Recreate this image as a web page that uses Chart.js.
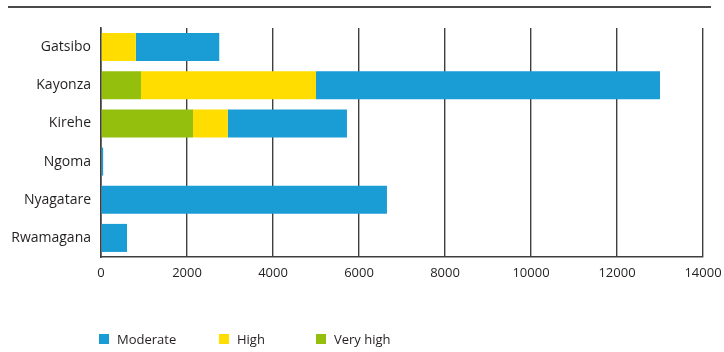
<!DOCTYPE html>
<html>
<head>
<meta charset="utf-8">
<script src="https://cdn.jsdelivr.net/npm/chart.js@4.4.1/dist/chart.umd.min.js"></script>
<style>
  html, body { margin: 0; padding: 0; background: #fff; }
  #wrap { position: relative; width: 724px; height: 352px; overflow: hidden; }
  #topline { position: absolute; left: 8px; top: 6px; width: 703px; height: 2px; background: #4a4a4a; }
  #legend { position: absolute; top: 330px; left: 0; height: 18px; font-family: "Open Sans", sans-serif; font-size: 13px; color: #231f20; }
  .li { position: absolute; top: 0; white-space: nowrap; display: flex; align-items: center; height: 18px; }
  .sw { width: 10px; height: 10px; margin-right: 8px; display: inline-block; }
  canvas { position: absolute; left: 0; top: 0; }
</style>
</head>
<body>
<div id="wrap">
  <div id="topline"></div>
  <canvas id="c" width="724" height="352"></canvas>
  <div id="legend"></div>
</div>
<script>
const categories = ["Gatsibo", "Kayonza", "Kirehe", "Ngoma", "Nyagatare", "Rwamagana"];
const veryHigh = [0, 930, 2140, 0, 0, 0];
const high     = [810, 4070, 810, 0, 0, 0];
const moderate = [1940, 8000, 2770, 50, 6650, 605];
const xTicks = [0, 2000, 4000, 6000, 8000, 10000, 12000, 14000];

const colors = { moderate: "#1A9CD5", high: "#FFDD00", veryHigh: "#94BF0D" };
const fontFam = "'Open Sans', sans-serif";
const textCol = "#231f20";
const gridCol = "#3f3f3f";

const chart = new Chart(document.getElementById("c"), {
  type: "bar",
  data: {
    labels: categories,
    datasets: [
      { label: "Very high", data: veryHigh, backgroundColor: colors.veryHigh },
      { label: "High", data: high, backgroundColor: colors.high },
      { label: "Moderate", data: moderate, backgroundColor: colors.moderate }
    ]
  },
  options: {
    indexAxis: "y",
    responsive: false,
    animation: false,
    maintainAspectRatio: false,
    layout: { padding: { top: 28, right: 21, left: 0, bottom: 0 } },
    datasets: { bar: { barPercentage: 0.735, categoryPercentage: 1.0, borderWidth: 0 } },
    plugins: {
      legend: { display: false },
      tooltip: { enabled: false }
    },
    scales: {
      x: {
        stacked: true,
        min: 0, max: 14000,
        afterBuildTicks: (s) => { s.ticks = xTicks.map(v => ({ value: v })); },
        afterFit: (s) => { s.height = 95; s.paddingLeft = 0; s.paddingRight = 0; },
        grid: { display: true, color: gridCol, lineWidth: 1.4, drawTicks: false },
        border: { display: true, color: gridCol, width: 1.6 },
        ticks: { padding: 8, color: textCol, font: { family: fontFam, size: 13 }, callback: (v) => String(v) }
      },
      y: {
        stacked: true,
        afterFit: (s) => { s.width = 101; s.paddingTop = 0; s.paddingBottom = 0; },
        grid: { display: false, drawTicks: false },
        border: { display: true, color: gridCol, width: 1.6 },
        ticks: { padding: 10, color: textCol, font: { family: fontFam, size: 14 } }
      }
    }
  }
});

// HTML legend built from the chart's datasets (shown in reverse order)
const legendLeft = [99, 219, 316];
const leg = document.getElementById("legend");
chart.data.datasets.slice().reverse().forEach((ds, i) => {
  const item = document.createElement("div");
  item.className = "li";
  item.style.left = legendLeft[i] + "px";
  const sw = document.createElement("span");
  sw.className = "sw";
  sw.style.background = ds.backgroundColor;
  const t = document.createElement("span");
  t.textContent = ds.label;
  item.appendChild(sw);
  item.appendChild(t);
  leg.appendChild(item);
});
</script>
</body>
</html>
